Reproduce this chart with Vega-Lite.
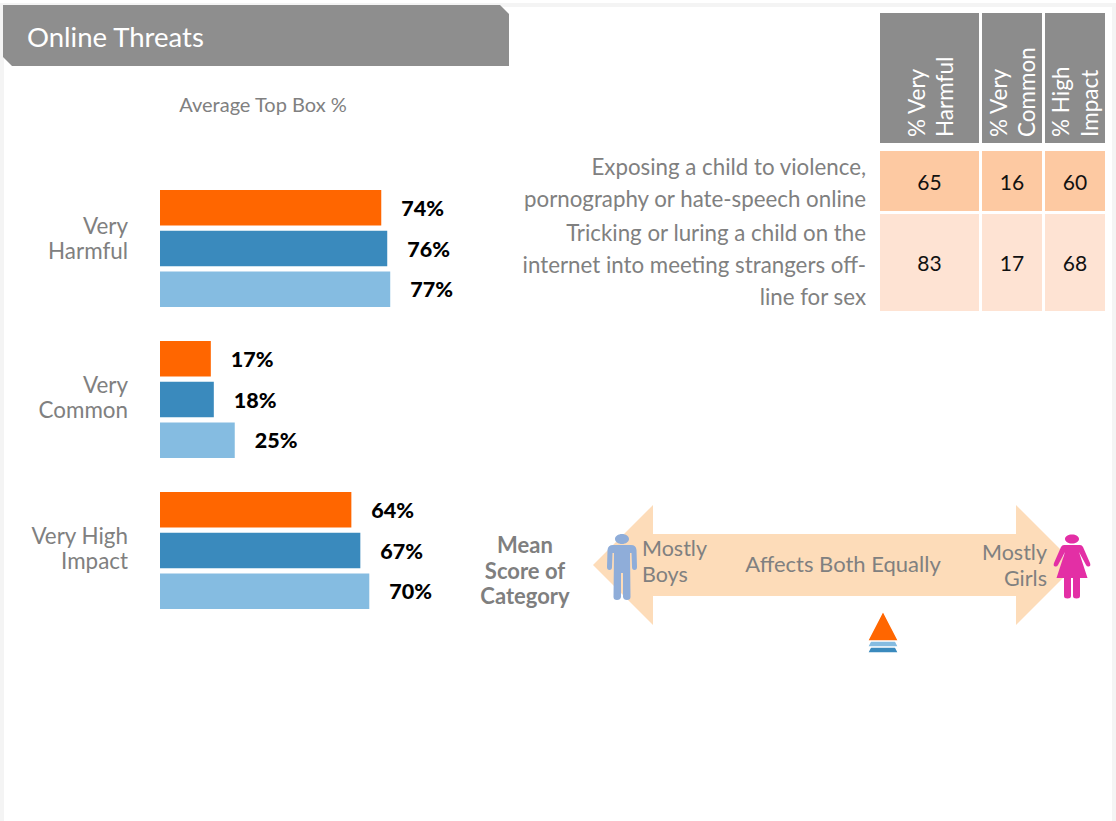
{
"$schema":"https://vega.github.io/schema/vega-lite/v6.json",
"width":1116,"height":821,"padding":0,"autosize":{"type":"fit","contains":"padding"},
"background":"#f4f4f4",
"config":{"view":{"stroke":null},"text":{"font":"Lato","lineBreak":"\n"}},
"datasets":{
"bars":[
{"metric":"Very Harmful","series":"A","value":0.74},{"metric":"Very Harmful","series":"B","value":0.76},{"metric":"Very Harmful","series":"C","value":0.77},
{"metric":"Very Common","series":"A","value":0.17},{"metric":"Very Common","series":"B","value":0.18},{"metric":"Very Common","series":"C","value":0.25},
{"metric":"Very High Impact","series":"A","value":0.64},{"metric":"Very High Impact","series":"B","value":0.67},{"metric":"Very High Impact","series":"C","value":0.70}],
"cells":[
{"threat":"Exposing","column":"% Very Harmful","value":65},{"threat":"Exposing","column":"% Very Common","value":16},{"threat":"Exposing","column":"% High Impact","value":60},
{"threat":"Tricking","column":"% Very Harmful","value":83},{"threat":"Tricking","column":"% Very Common","value":17},{"threat":"Tricking","column":"% High Impact","value":68}],
"means":[{"series":"B","score":0.16},{"series":"C","score":0.16},{"series":"A","score":0.16}]
},
"resolve":{"scale":{"x":"independent","y":"independent","color":"independent"}},
"layer":[
{"data":{"values":[{"p":"page"}]},"mark":{"type":"rect","fill":"white"},"encoding":{
 "x":{"field":"p","type":"nominal","axis":null,"scale":{"type":"band","range":[4,1112],"padding":0}},
 "y":{"field":"p","type":"nominal","axis":null,"scale":{"type":"band","range":[7,821],"padding":0}}}},
{"data":{"values":[{"p":"top"}]},"mark":{"type":"rect","fill":"white"},"encoding":{
 "x":{"field":"p","type":"nominal","axis":null,"scale":{"type":"band","range":[0,1116],"padding":0}},
 "y":{"field":"p","type":"nominal","axis":null,"scale":{"type":"band","range":[0,3],"padding":0}}}},
{"data":{"values":[{"label":"Online Threats"}]},"mark":{"type":"point","filled":true,"opacity":1,"size":4,"fill":"#8e8e8e","strokeWidth":0,"shape":"M-253,-30 H244 L253,-21 V31 H-244 L-253,22 Z"},"encoding":{
 "x":{"field":"label","type":"nominal","axis":null,"scale":{"type":"point","range":[256,256]}},
 "y":{"field":"label","type":"nominal","axis":null,"scale":{"type":"point","range":[35,35]}}}},
{"data":{"values":[{"label":"Online Threats"}]},"mark":{"type":"text","fontSize":27.5,"fill":"white","align":"left","baseline":"middle"},"encoding":{
 "text":{"field":"label"},
 "x":{"field":"label","type":"nominal","axis":null,"scale":{"type":"point","range":[27,27]}},
 "y":{"field":"label","type":"nominal","axis":null,"scale":{"type":"point","range":[39,39]}}}},
{"data":{"values":[{"label":"Average Top Box %"}]},"mark":{"type":"text","fontSize":20,"fill":"#808080","align":"center","baseline":"middle"},"encoding":{
 "text":{"field":"label"},
 "x":{"field":"label","type":"nominal","axis":null,"scale":{"type":"point","range":[263,263]}},
 "y":{"field":"label","type":"nominal","axis":null,"scale":{"type":"point","range":[106,106]}}}},
{"data":{"name":"bars"},"encoding":{
 "y":{"field":"metric","type":"nominal","axis":null,"sort":null,"scale":{"type":"band","domain":["Very Harmful","Very Common","Very High Impact"],"range":[190,643],"padding":0}},
 "yOffset":{"field":"series","type":"nominal","sort":null,"scale":{"type":"band","domain":["A","B","C"],"range":[0,117],"paddingInner":0.13,"paddingOuter":0}},
 "x":{"field":"value","type":"quantitative","axis":null,"scale":{"domain":[0,1],"range":[160,459]}}},
 "layer":[
 {"mark":{"type":"bar"},"encoding":{"color":{"field":"series","type":"nominal","legend":null,"scale":{"domain":["A","B","C"],"range":["#ff6600","#3a8abd","#85bce1"]}}}},
 {"mark":{"type":"text","fontSize":21.5,"fontWeight":900,"fill":"#000000","align":"left","baseline":"middle","dx":20,"dy":2},"encoding":{"text":{"field":"value","type":"quantitative","format":".0%"}}}
 ]},
{"data":{"values":[{"label":"Very\nHarmful"}]},"mark":{"type":"text","fontSize":22.4,"fill":"#808080","align":"right","baseline":"middle","lineHeight":25},"encoding":{
 "text":{"field":"label"},
 "x":{"field":"label","type":"nominal","axis":null,"scale":{"type":"point","range":[128,128]}},
 "y":{"field":"label","type":"nominal","axis":null,"scale":{"type":"point","range":[227,227]}}}},
{"data":{"values":[{"label":"Very\nCommon"}]},"mark":{"type":"text","fontSize":22.4,"fill":"#808080","align":"right","baseline":"middle","lineHeight":25},"encoding":{
 "text":{"field":"label"},
 "x":{"field":"label","type":"nominal","axis":null,"scale":{"type":"point","range":[128,128]}},
 "y":{"field":"label","type":"nominal","axis":null,"scale":{"type":"point","range":[386,386]}}}},
{"data":{"values":[{"label":"Very High\nImpact"}]},"mark":{"type":"text","fontSize":22.4,"fill":"#808080","align":"right","baseline":"middle","lineHeight":25},"encoding":{
 "text":{"field":"label"},
 "x":{"field":"label","type":"nominal","axis":null,"scale":{"type":"point","range":[128,128]}},
 "y":{"field":"label","type":"nominal","axis":null,"scale":{"type":"point","range":[537,537]}}}},
{"data":{"values":[{"label":"% Very\nHarmful"}]},"mark":{"type":"rect","fill":"#8c8c8c"},"encoding":{
 "x":{"field":"label","type":"nominal","axis":null,"scale":{"type":"band","range":[880,979],"padding":0}},
 "y":{"field":"label","type":"nominal","axis":null,"scale":{"type":"band","range":[13,143],"padding":0}}}},
{"data":{"values":[{"label":"% Very\nCommon"}]},"mark":{"type":"rect","fill":"#8c8c8c"},"encoding":{
 "x":{"field":"label","type":"nominal","axis":null,"scale":{"type":"band","range":[982,1042],"padding":0}},
 "y":{"field":"label","type":"nominal","axis":null,"scale":{"type":"band","range":[13,143],"padding":0}}}},
{"data":{"values":[{"label":"% High\nImpact"}]},"mark":{"type":"rect","fill":"#8c8c8c"},"encoding":{
 "x":{"field":"label","type":"nominal","axis":null,"scale":{"type":"band","range":[1045,1105],"padding":0}},
 "y":{"field":"label","type":"nominal","axis":null,"scale":{"type":"band","range":[13,143],"padding":0}}}},
{"data":{"values":[{"label":"% Very\nHarmful"}]},"mark":{"type":"text","angle":270,"fontSize":22.5,"fill":"white","align":"left","baseline":"middle","lineHeight":28},"encoding":{
 "text":{"field":"label"},
 "x":{"field":"label","type":"nominal","axis":null,"scale":{"type":"point","range":[917.5,917.5]}},
 "y":{"field":"label","type":"nominal","axis":null,"scale":{"type":"point","range":[137,137]}}}},
{"data":{"values":[{"label":"% Very\nCommon"}]},"mark":{"type":"text","angle":270,"fontSize":22.5,"fill":"white","align":"left","baseline":"middle","lineHeight":28},"encoding":{
 "text":{"field":"label"},
 "x":{"field":"label","type":"nominal","axis":null,"scale":{"type":"point","range":[1000,1000]}},
 "y":{"field":"label","type":"nominal","axis":null,"scale":{"type":"point","range":[137,137]}}}},
{"data":{"values":[{"label":"% High\nImpact"}]},"mark":{"type":"text","angle":270,"fontSize":22.5,"fill":"white","align":"left","baseline":"middle","lineHeight":29},"encoding":{
 "text":{"field":"label"},
 "x":{"field":"label","type":"nominal","axis":null,"scale":{"type":"point","range":[1062,1062]}},
 "y":{"field":"label","type":"nominal","axis":null,"scale":{"type":"point","range":[137,137]}}}},
{"data":{"name":"cells"},"transform":[{"filter":"datum.threat==='Exposing' && datum.column==='% Very Harmful'"}],"encoding":{
 "x":{"field":"column","type":"nominal","axis":null,"scale":{"type":"band","range":[880,979],"padding":0}},
 "y":{"field":"threat","type":"nominal","axis":null,"scale":{"type":"band","range":[151,211],"padding":0}}},
 "layer":[{"mark":{"type":"rect","fill":"#fdc9a2"}},{"mark":{"type":"text","fontSize":21,"fill":"#111111","dy":2.5},"encoding":{"text":{"field":"value","type":"quantitative"}}}]},
{"data":{"name":"cells"},"transform":[{"filter":"datum.threat==='Exposing' && datum.column==='% Very Common'"}],"encoding":{
 "x":{"field":"column","type":"nominal","axis":null,"scale":{"type":"band","range":[982,1042],"padding":0}},
 "y":{"field":"threat","type":"nominal","axis":null,"scale":{"type":"band","range":[151,211],"padding":0}}},
 "layer":[{"mark":{"type":"rect","fill":"#fdc9a2"}},{"mark":{"type":"text","fontSize":21,"fill":"#111111","dy":2.5},"encoding":{"text":{"field":"value","type":"quantitative"}}}]},
{"data":{"name":"cells"},"transform":[{"filter":"datum.threat==='Exposing' && datum.column==='% High Impact'"}],"encoding":{
 "x":{"field":"column","type":"nominal","axis":null,"scale":{"type":"band","range":[1045,1105],"padding":0}},
 "y":{"field":"threat","type":"nominal","axis":null,"scale":{"type":"band","range":[151,211],"padding":0}}},
 "layer":[{"mark":{"type":"rect","fill":"#fdc9a2"}},{"mark":{"type":"text","fontSize":21,"fill":"#111111","dy":2.5},"encoding":{"text":{"field":"value","type":"quantitative"}}}]},
{"data":{"name":"cells"},"transform":[{"filter":"datum.threat==='Tricking' && datum.column==='% Very Harmful'"}],"encoding":{
 "x":{"field":"column","type":"nominal","axis":null,"scale":{"type":"band","range":[880,979],"padding":0}},
 "y":{"field":"threat","type":"nominal","axis":null,"scale":{"type":"band","range":[214,311],"padding":0}}},
 "layer":[{"mark":{"type":"rect","fill":"#fee3d3"}},{"mark":{"type":"text","fontSize":21,"fill":"#111111","dy":2.5},"encoding":{"text":{"field":"value","type":"quantitative"}}}]},
{"data":{"name":"cells"},"transform":[{"filter":"datum.threat==='Tricking' && datum.column==='% Very Common'"}],"encoding":{
 "x":{"field":"column","type":"nominal","axis":null,"scale":{"type":"band","range":[982,1042],"padding":0}},
 "y":{"field":"threat","type":"nominal","axis":null,"scale":{"type":"band","range":[214,311],"padding":0}}},
 "layer":[{"mark":{"type":"rect","fill":"#fee3d3"}},{"mark":{"type":"text","fontSize":21,"fill":"#111111","dy":2.5},"encoding":{"text":{"field":"value","type":"quantitative"}}}]},
{"data":{"name":"cells"},"transform":[{"filter":"datum.threat==='Tricking' && datum.column==='% High Impact'"}],"encoding":{
 "x":{"field":"column","type":"nominal","axis":null,"scale":{"type":"band","range":[1045,1105],"padding":0}},
 "y":{"field":"threat","type":"nominal","axis":null,"scale":{"type":"band","range":[214,311],"padding":0}}},
 "layer":[{"mark":{"type":"rect","fill":"#fee3d3"}},{"mark":{"type":"text","fontSize":21,"fill":"#111111","dy":2.5},"encoding":{"text":{"field":"value","type":"quantitative"}}}]},
{"data":{"values":[{"label":"Exposing a child to violence,\npornography or hate-speech online"},{"label":"Tricking or luring a child on the\ninternet into meeting strangers off-\nline for sex"}]},"mark":{"type":"text","fontSize":22.3,"fill":"#808080","align":"right","baseline":"middle","lineHeight":32},"encoding":{
 "text":{"field":"label"},
 "x":{"datum":"row labels","type":"nominal","axis":null,"scale":{"type":"point","range":[866,866]}},
 "y":{"field":"label","type":"nominal","axis":null,"sort":null,"scale":{"type":"point","range":[168,234],"padding":0}}}},
{"data":{"values":[{"label":"Mean\nScore of\nCategory"}]},"mark":{"type":"text","fontSize":22,"fontWeight":"bold","fill":"#7f7f7f","align":"center","baseline":"middle","lineHeight":25.5},"encoding":{
 "text":{"field":"label"},
 "x":{"field":"label","type":"nominal","axis":null,"scale":{"type":"point","range":[525,525]}},
 "y":{"field":"label","type":"nominal","axis":null,"scale":{"type":"point","range":[546,546]}}}},
{"data":{"values":[{"label":"Affects Both Equally","score":0}]},"mark":{"type":"point","filled":true,"opacity":1,"size":4,"fill":"#fddcb9","strokeWidth":0,"shape":"M-254,0 L-194,-60 V-31 H169 V-60 L216,-13 V13 L169,60 V31 H-194 V60 Z"},"encoding":{
 "x":{"field":"score","type":"quantitative","axis":null,"scale":{"domain":[-1,1],"range":[622,1072]}},
 "y":{"field":"label","type":"nominal","axis":null,"scale":{"type":"point","range":[565,565]}}}},
{"data":{"values":[{"label":"Mostly Boys","score":-1}]},"mark":{"type":"point","filled":true,"opacity":1,"size":4,"fill":"#8fadd9","strokeWidth":0,"shape":"M-7,-31 A7,5 0 1,1 7,-31 A7,5 0 1,1 -7,-31 Z M-9,-25 H9 Q14,-25 14.5,-20 L15,-3 Q15,0 12.5,0 Q10,0 10,-3 L9.5,-17 H8 L8.5,27 Q8.5,30 5,30 Q1.5,30 1,27 L1,3 H-1 L-1,27 Q-1.5,30 -5,30 Q-8.5,30 -8.5,27 L-8,-17 H-9.5 L-10,-3 Q-10,0 -12.5,0 Q-15,0 -15,-3 L-14.5,-20 Q-14,-25 -9,-25 Z"},"encoding":{
 "x":{"field":"score","type":"quantitative","axis":null,"scale":{"domain":[-1,1],"range":[622,1072]}},
 "y":{"field":"label","type":"nominal","axis":null,"scale":{"type":"point","range":[570,570]}}}},
{"data":{"values":[{"label":"Mostly Girls","score":1}]},"mark":{"type":"point","filled":true,"opacity":1,"size":4,"fill":"#e32fa5","strokeWidth":0,"shape":"M-7,-31 A7,4.5 0 1,1 7,-31 A7,4.5 0 1,1 -7,-31 Z M-8,-25 H8 Q10,-25 11,-23 L18,-7 Q19,-4 17,-3.5 Q15,-3 14,-5 L7,-18 L15.5,8 H8 L8,26 Q8,28.5 4.5,28.5 Q1,28.5 1,26 V8 H-1 V26 Q-1,28.5 -4.5,28.5 Q-8,28.5 -8,26 V8 H-15.5 L-7,-18 L-14,-5 Q-15,-3 -17,-3.5 Q-19,-4 -18,-7 L-11,-23 Q-10,-25 -8,-25 Z"},"encoding":{
 "x":{"field":"score","type":"quantitative","axis":null,"scale":{"domain":[-1,1],"range":[622,1072]}},
 "y":{"field":"label","type":"nominal","axis":null,"scale":{"type":"point","range":[570,570]}}}},
{"data":{"values":[{"label":"Mostly\nBoys"}]},"mark":{"type":"text","fontSize":21.5,"fill":"#808080","align":"left","baseline":"middle","lineHeight":26},"encoding":{
 "text":{"field":"label"},
 "x":{"field":"label","type":"nominal","axis":null,"scale":{"type":"point","range":[642,642]}},
 "y":{"field":"label","type":"nominal","axis":null,"scale":{"type":"point","range":[550,550]}}}},
{"data":{"values":[{"label":"Mostly\nGirls"}]},"mark":{"type":"text","fontSize":21.5,"fill":"#808080","align":"right","baseline":"middle","lineHeight":26},"encoding":{
 "text":{"field":"label"},
 "x":{"field":"label","type":"nominal","axis":null,"scale":{"type":"point","range":[1047,1047]}},
 "y":{"field":"label","type":"nominal","axis":null,"scale":{"type":"point","range":[554,554]}}}},
{"data":{"values":[{"label":"Affects Both Equally"}]},"mark":{"type":"text","fontSize":22,"fill":"#808080","align":"center","baseline":"middle"},"encoding":{
 "text":{"field":"label"},
 "x":{"field":"label","type":"nominal","axis":null,"scale":{"type":"point","range":[843,843]}},
 "y":{"field":"label","type":"nominal","axis":null,"scale":{"type":"point","range":[565,565]}}}},
{"data":{"name":"means"},"mark":{"type":"point","filled":true,"opacity":1,"size":4,"stroke":"white","strokeWidth":1.5,"shape":"M0,-30 L15.5,0 H-15.5 Z"},"encoding":{
 "x":{"field":"score","type":"quantitative","axis":null,"scale":{"domain":[-1,1],"range":[622,1072]}},
 "y":{"field":"series","type":"nominal","axis":null,"sort":null,"scale":{"type":"point","domain":["A","C","B"],"range":[641,653],"padding":0}},
 "color":{"field":"series","type":"nominal","legend":null,"scale":{"domain":["A","B","C"],"range":["#ff6600","#3a8abd","#85bce1"]}}}}
]
}
